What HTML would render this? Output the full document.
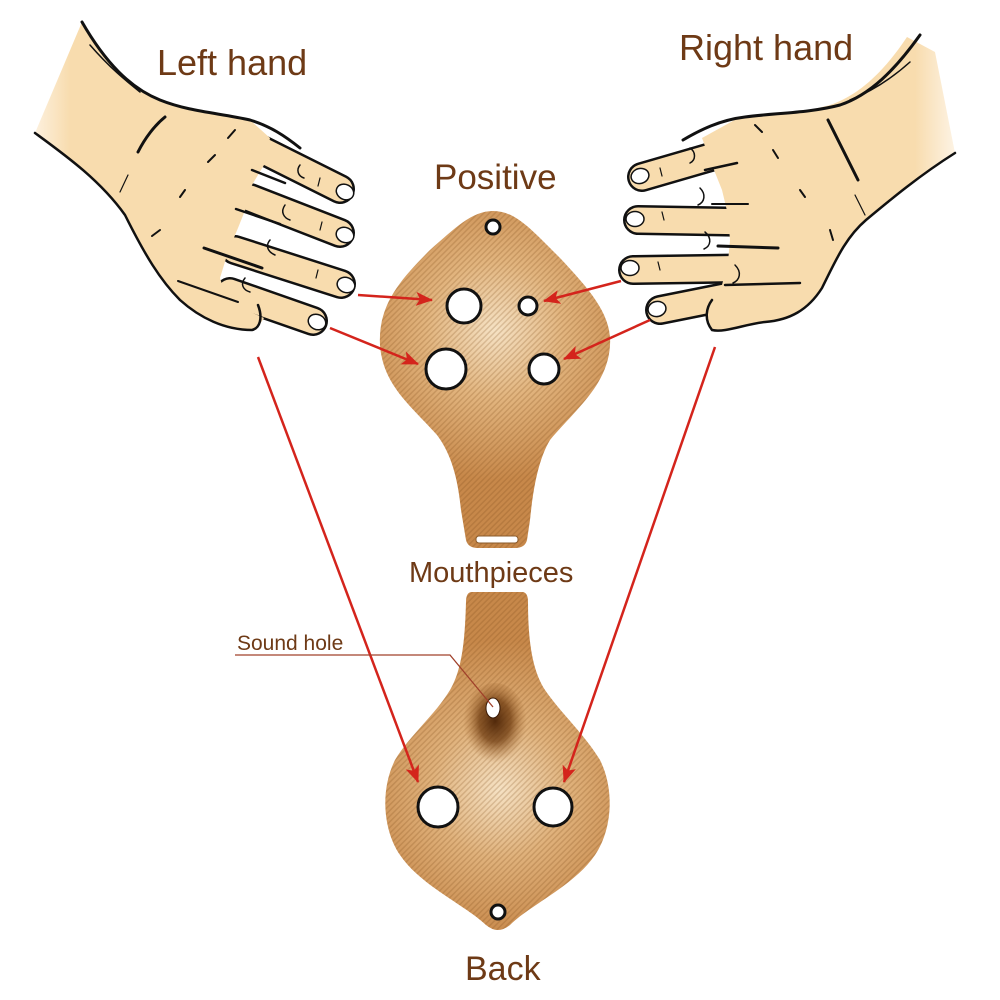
<!DOCTYPE html>
<html>
<head>
<meta charset="utf-8">
<style>
html,body{margin:0;padding:0;background:#fff;}
svg{display:block;}
text{font-family:"Liberation Sans",Arial,sans-serif;fill:#6e3a16;}
</style>
</head>
<body>
<svg width="1000" height="1000" viewBox="0 0 1000 1000" xmlns="http://www.w3.org/2000/svg">
<defs>
  <radialGradient id="topg" cx="495" cy="330" r="150" gradientUnits="userSpaceOnUse">
    <stop offset="0" stop-color="#f6e2c4"/>
    <stop offset="0.45" stop-color="#e2b57f"/>
    <stop offset="1" stop-color="#c7884a"/>
  </radialGradient>
  <radialGradient id="botg" cx="500" cy="790" r="150" gradientUnits="userSpaceOnUse">
    <stop offset="0" stop-color="#f6e2c4"/>
    <stop offset="0.45" stop-color="#e0b27c"/>
    <stop offset="1" stop-color="#c7884a"/>
  </radialGradient>
  <radialGradient id="shadow" cx="0.5" cy="0.45" r="0.5">
    <stop offset="0" stop-color="#4a2205" stop-opacity="0.95"/>
    <stop offset="0.5" stop-color="#6e3a0e" stop-opacity="0.75"/>
    <stop offset="1" stop-color="#a66a30" stop-opacity="0"/>
  </radialGradient>
  <pattern id="stripes" patternUnits="userSpaceOnUse" width="4" height="4" patternTransform="rotate(45)">
    <rect x="0" y="0" width="1.5" height="4" fill="#7a4a18" fill-opacity="0.22"/>
  </pattern>
  <linearGradient id="larm" x1="30" y1="0" x2="70" y2="0" gradientUnits="userSpaceOnUse">
    <stop offset="0" stop-color="#fdf3e4"/>
    <stop offset="1" stop-color="#f8dcae"/>
  </linearGradient>
  <linearGradient id="rarm" x1="915" y1="0" x2="955" y2="0" gradientUnits="userSpaceOnUse">
    <stop offset="0" stop-color="#f8dcae"/>
    <stop offset="1" stop-color="#fdf3e4"/>
  </linearGradient>
  <marker id="ah" markerUnits="userSpaceOnUse" markerWidth="18" markerHeight="14" refX="16" refY="7" orient="auto">
    <path d="M0,0 L17,7 L0,14 L4,7 Z" fill="#d4241c"/>
  </marker>
</defs>

<!-- ================= LEFT HAND ================= -->
<g>
  <g stroke="#111" stroke-width="30" stroke-linecap="round" fill="none">
    <line x1="262" y1="150" x2="340" y2="189"/>
    <line x1="250" y1="198" x2="340" y2="233"/>
    <line x1="235" y1="250" x2="341" y2="284"/>
    <line x1="230" y1="292" x2="313" y2="321"/>
  </g>
  <g stroke="#f8dcae" stroke-width="25" stroke-linecap="round" fill="none">
    <line x1="262" y1="150" x2="340" y2="189"/>
    <line x1="250" y1="198" x2="340" y2="233"/>
    <line x1="235" y1="250" x2="341" y2="284"/>
    <line x1="230" y1="292" x2="313" y2="321"/>
  </g>
  <!-- palm + arm fill -->
  <path d="M35,133 L82,22 C105,62 130,88 160,100 C190,112 220,113 250,120 L270,138 L264,165 L252,185 L246,208 L238,228 L228,252 L220,278 L226,298 L246,310 L264,318 L256,330 C228,330 200,318 180,300 C160,280 145,255 125,215 C100,180 65,155 35,133 Z" fill="url(#larm)"/>
  <!-- nails -->
  <g fill="#fff" stroke="#111" stroke-width="1.5">
    <ellipse cx="345" cy="192" rx="9" ry="7.5" transform="rotate(27 345 192)"/>
    <ellipse cx="345" cy="235" rx="9" ry="7.5" transform="rotate(22 345 235)"/>
    <ellipse cx="346" cy="285" rx="9" ry="7.5" transform="rotate(20 346 285)"/>
    <ellipse cx="317" cy="322" rx="9" ry="7.5" transform="rotate(25 317 322)"/>
  </g>
  <g stroke="#111" fill="none" stroke-linecap="round">
    <path d="M82,22 C105,62 130,88 160,100 C190,112 220,113 250,120 C270,126 285,136 300,148" stroke-width="3"/>
    <path d="M35,133 C65,155 100,180 125,215 C145,255 160,280 180,300 C200,318 225,330 252,330 C260,328 263,318 258,305" stroke-width="2.5"/>
    <path d="M90,45 C110,68 125,80 140,92" stroke-width="1.5"/>
    <!-- gaps between fingers -->
    <path d="M252,170 L285,183" stroke-width="2.5"/>
    <path d="M236,209 L280,224" stroke-width="2.5"/>
    <path d="M204,248 L262,268" stroke-width="3"/>
    <path d="M178,281 L238,302" stroke-width="2"/>
    <!-- creases -->
    <path d="M165,117 C155,125 145,138 138,152" stroke-width="3"/>
    <path d="M235,130 L228,138" stroke-width="2"/>
    <path d="M215,155 L208,162" stroke-width="2"/>
    <path d="M185,190 L180,197" stroke-width="2"/>
    <path d="M160,230 L152,236" stroke-width="2"/>
    <path d="M128,175 L120,192" stroke-width="1.2"/>
    <path d="M300,165 C296,170 298,176 304,178" stroke-width="1.5"/>
    <path d="M285,205 C280,212 284,218 290,220" stroke-width="1.5"/>
    <path d="M270,240 C265,246 268,252 275,255" stroke-width="1.5"/>
    <path d="M245,278 C240,284 243,290 250,292" stroke-width="1.5"/>
    <path d="M320,178 L318,186" stroke-width="1.2"/>
    <path d="M322,222 L320,230" stroke-width="1.2"/>
    <path d="M318,270 L316,278" stroke-width="1.2"/>
  </g>
</g>

<!-- ================= RIGHT HAND ================= -->
<g>
  <g stroke="#111" stroke-width="30" stroke-linecap="round" fill="none">
    <line x1="735" y1="150" x2="642" y2="177"/>
    <line x1="755" y1="222" x2="638" y2="220"/>
    <line x1="770" y1="268" x2="633" y2="270"/>
    <line x1="735" y1="295" x2="660" y2="310"/>
  </g>
  <g stroke="#f8dcae" stroke-width="25" stroke-linecap="round" fill="none">
    <line x1="735" y1="150" x2="642" y2="177"/>
    <line x1="755" y1="222" x2="638" y2="220"/>
    <line x1="770" y1="268" x2="633" y2="270"/>
    <line x1="735" y1="295" x2="660" y2="310"/>
  </g>
  <path d="M740,117 C770,117 800,113 830,105 C860,95 885,70 907,37 L935,52 L955,153 C920,175 890,200 866,220 C845,238 835,262 822,288 C808,310 790,320 765,322 C745,324 725,333 712,330 L706,312 L714,300 L722,285 L728,262 L730,240 L728,215 L722,190 L712,165 L702,138 Z" fill="url(#rarm)"/>
  <g fill="#fff" stroke="#111" stroke-width="1.5">
    <ellipse cx="640" cy="176" rx="9" ry="7.5" transform="rotate(-15 640 176)"/>
    <ellipse cx="635" cy="219" rx="9" ry="7.5"/>
    <ellipse cx="630" cy="268" rx="9" ry="7.5"/>
    <ellipse cx="657" cy="309" rx="9" ry="7.5" transform="rotate(-12 657 309)"/>
  </g>
  <g stroke="#111" fill="none" stroke-linecap="round">
    <path d="M920,35 C895,70 870,95 840,105 C810,113 775,113 745,117 C720,120 700,130 683,140" stroke-width="3"/>
    <path d="M955,153 C920,175 890,200 866,220 C845,238 835,262 822,288 C808,310 790,320 765,322 C745,324 725,333 712,330 C704,320 706,308 712,300" stroke-width="2.5"/>
    <path d="M910,62 C890,80 870,92 850,100" stroke-width="1.5"/>
    <!-- gaps -->
    <path d="M737,163 L705,170" stroke-width="2.5"/>
    <path d="M748,204 L712,204" stroke-width="2"/>
    <path d="M778,248 L718,246" stroke-width="3"/>
    <path d="M800,283 L725,285" stroke-width="2.5"/>
    <!-- creases -->
    <path d="M828,120 C838,140 848,160 858,180" stroke-width="3"/>
    <path d="M755,125 L762,132" stroke-width="2"/>
    <path d="M773,150 L778,158" stroke-width="2"/>
    <path d="M800,190 L805,197" stroke-width="2"/>
    <path d="M830,230 L833,240" stroke-width="2"/>
    <path d="M855,195 L865,215" stroke-width="1.2"/>
    <path d="M690,148 C696,152 696,160 690,163" stroke-width="1.5"/>
    <path d="M700,188 C706,194 705,202 698,205" stroke-width="1.5"/>
    <path d="M705,232 C712,238 711,246 704,249" stroke-width="1.5"/>
    <path d="M735,265 C742,272 740,280 733,283" stroke-width="1.5"/>
    <path d="M660,168 L662,176" stroke-width="1.2"/>
    <path d="M662,212 L664,220" stroke-width="1.2"/>
    <path d="M658,262 L660,270" stroke-width="1.2"/>
  </g>
</g>

<!-- ================= TOP OCARINA ================= -->
<g>
  <path d="M493,211 C515,211 530,228 560,258 C590,290 612,315 610,345 C608,385 575,410 550,440 C538,460 533,490 530,520 L527,540 Q525,548 515,548 L478,548 Q468,548 466,540 L461,510 C458,480 452,455 437,435 C410,405 383,385 380,345 C378,305 400,280 430,250 C455,228 472,211 493,211 Z" fill="url(#topg)"/>
  <path d="M493,211 C515,211 530,228 560,258 C590,290 612,315 610,345 C608,385 575,410 550,440 C538,460 533,490 530,520 L527,540 Q525,548 515,548 L478,548 Q468,548 466,540 L461,510 C458,480 452,455 437,435 C410,405 383,385 380,345 C378,305 400,280 430,250 C455,228 472,211 493,211 Z" fill="url(#stripes)"/>
  <rect x="476" y="536" width="42" height="7" rx="3" fill="#fff" stroke="#8a5a2a" stroke-width="1"/>
  <g fill="#fff" stroke="#111" stroke-width="3">
    <circle cx="493" cy="227" r="7"/>
    <circle cx="464" cy="306" r="17"/>
    <circle cx="528" cy="306" r="9"/>
    <circle cx="446" cy="369" r="20"/>
    <circle cx="544" cy="369" r="15"/>
  </g>
</g>

<!-- ================= BOTTOM OCARINA ================= -->
<g>
  <path d="M472,592 L522,592 Q528,592 528,602 C528,640 532,670 545,690 C560,712 585,735 600,760 C615,790 612,830 595,855 C575,885 530,905 510,925 Q498,935 486,925 C465,905 420,885 400,855 C383,830 380,790 395,760 C410,735 435,715 450,690 C462,670 465,640 466,602 Q466,592 472,592 Z" fill="url(#botg)"/>
  <path d="M472,592 L522,592 Q528,592 528,602 C528,640 532,670 545,690 C560,712 585,735 600,760 C615,790 612,830 595,855 C575,885 530,905 510,925 Q498,935 486,925 C465,905 420,885 400,855 C383,830 380,790 395,760 C410,735 435,715 450,690 C462,670 465,640 466,602 Q466,592 472,592 Z" fill="url(#stripes)"/>
  <ellipse cx="495" cy="725" rx="32" ry="42" fill="url(#shadow)"/>
  <ellipse cx="493" cy="708" rx="7" ry="10" fill="#fff" stroke="#3a1a05" stroke-width="1"/>
  <g fill="#fff" stroke="#111" stroke-width="3">
    <circle cx="438" cy="807" r="20"/>
    <circle cx="553" cy="807" r="19"/>
    <circle cx="498" cy="912" r="7"/>
  </g>
</g>

<!-- ================= ARROWS ================= -->
<g stroke="#d4241c" stroke-width="2.5" fill="none" marker-end="url(#ah)">
  <line x1="358" y1="295" x2="432" y2="300"/>
  <line x1="330" y1="328" x2="418" y2="364"/>
  <line x1="621" y1="281" x2="544" y2="301"/>
  <line x1="650" y1="320" x2="564" y2="359"/>
  <line x1="258" y1="357" x2="418" y2="782"/>
  <line x1="715" y1="347" x2="564" y2="782"/>
</g>

<polyline points="235,655 450,655 493,707" fill="none" stroke="#a0402a" stroke-width="1.3"/>

<!-- ================= LABELS ================= -->
<text x="157" y="75" font-size="36">Left hand</text>
<text x="679" y="60" font-size="36">Right hand</text>
<text x="434" y="189" font-size="35">Positive</text>
<text x="409" y="582" font-size="29">Mouthpieces</text>
<text x="237" y="650" font-size="21">Sound hole</text>
<text x="465" y="980" font-size="34">Back</text>
</svg>
</body>
</html>
